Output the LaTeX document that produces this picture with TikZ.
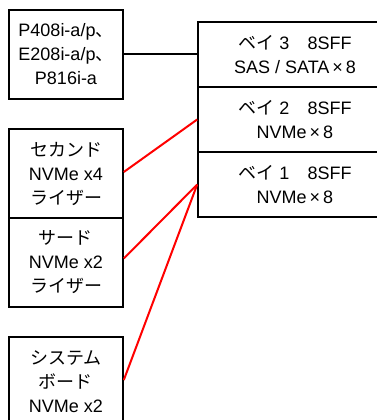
\documentclass[tikz,border=0pt]{standalone}
\usepackage{fontspec}
\setmainfont{Liberation Sans}
\newfontfamily\jp{Noto Sans CJK JP}
\begin{document}
\begin{tikzpicture}[x=1pt,y=-1pt,
  box/.style={draw, line width=1.6pt, rectangle, align=center, inner sep=0pt,
    font=\fontsize{18}{24}\selectfont},
  lbox/.style={box, minimum width=114pt, minimum height=89pt},
  rbox/.style={box, minimum width=194pt, minimum height=65pt},
  blk/.style={line width=2pt, black},
  red/.style={line width=2pt, draw={rgb,255:red,255;green,0;blue,0}}]
\useasboundingbox (0,0) rectangle (377,420);
\clip (0,0) rectangle (377,420);
\fill[white] (0,0) rectangle (377,420);
\node[lbox] (c) at (66,54.5) {P408i-a/p{\jp 、}\\E208i-a/p{\jp 、}\\P816i-a};
\node[lbox] (s) at (66,173.5) {{\jp セカンド}\\NVMe x4\\{\jp ライザー}};
\node[lbox] (t) at (66,262.5) {{\jp サード}\\NVMe x2\\{\jp ライザー}};
\node[lbox] (m) at (66,381.5) {{\jp システム}\\{\jp ボード}\\NVMe x2};
\node[rbox] (b3) at (295,54.5) {{\jp ベイ} 3{\jp 　}8SFF\\SAS / SATA\,×\,8};
\node[rbox] (b2) at (295,119.5) {{\jp ベイ} 2{\jp 　}8SFF\\NVMe\,×\,8};
\node[rbox] (b1) at (295,184.5) {{\jp ベイ} 1{\jp 　}8SFF\\NVMe\,×\,8};
\draw[blk] (c.east) -- (b3.west);
\draw[red] ([yshift=1.5pt]s.east) -- (b2.west);
\draw[red] ([yshift=4pt]t.east) -- (b1.west);
\draw[red] ([yshift=1.5pt]m.east) -- (b1.west);
\end{tikzpicture}
\end{document}
